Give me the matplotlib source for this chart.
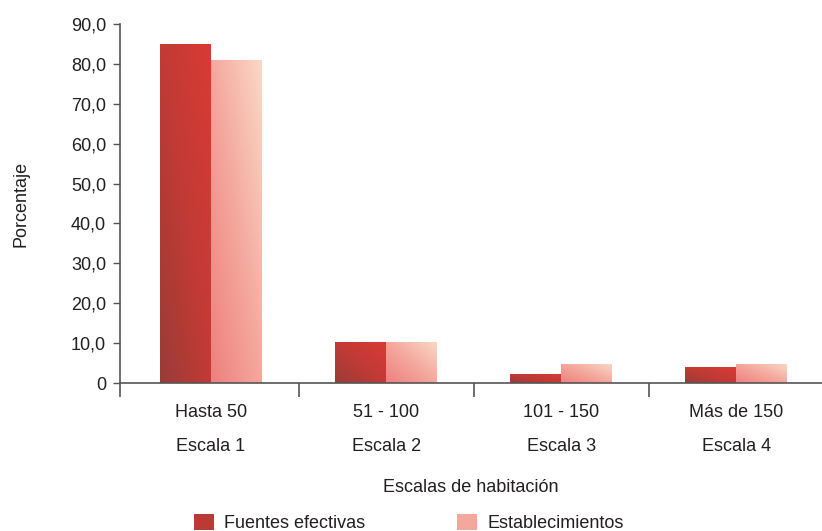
import matplotlib
matplotlib.use("Agg")
import matplotlib.pyplot as plt
from matplotlib.colors import LinearSegmentedColormap
from matplotlib.patches import Patch
import numpy as np

plt.rcParams['font.family'] = ['Liberation Sans', 'DejaVu Sans']

# Data
rangos = ["Hasta 50", "51 - 100", "101 - 150", "Más de 150"]
escalas = ["Escala 1", "Escala 2", "Escala 3", "Escala 4"]
fuentes = [85.0, 10.3, 2.3, 3.9]
establecimientos = [81.0, 10.3, 4.8, 4.8]
yticks = [0, 10, 20, 30, 40, 50, 60, 70, 80, 90]
ytick_labels = ["0", "10,0", "20,0", "30,0", "40,0", "50,0", "60,0", "70,0", "80,0", "90,0"]

txt = "#231f20"
axc = "#555555"
fs = 13
cmap_dark = LinearSegmentedColormap.from_list("dark", ["#9a3c37", "#c23a35", "#d93a34"])
cmap_light = LinearSegmentedColormap.from_list("light", ["#ee807e", "#f4a89c", "#fad8c8"])

fig = plt.figure(figsize=(8.22, 5.31), dpi=100)
ax = fig.add_axes([120/822, 148/531, 702/822, 359/531])

x = np.arange(len(rangos))
w = 0.29
b1 = ax.bar(x - w/2, fuentes, w, color="none")
b2 = ax.bar(x + w/2, establecimientos, w, color="none")

# diagonal gradient, bottom-left dark -> top-right light
u, v = np.meshgrid(np.linspace(0, 1, 60), np.linspace(0, 1, 60))
grad = (u + v) / 2
for bars, cm in ((b1, cmap_dark), (b2, cmap_light)):
    for p in bars:
        x0, y0 = p.get_x(), p.get_y()
        x1, y1 = x0 + p.get_width(), y0 + p.get_height()
        im = ax.imshow(grad, cmap=cm, extent=(x0, x1, y0, y1), origin="lower",
                       aspect="auto", interpolation="bilinear", zorder=2)
        im.set_clip_path(p)

ax.set_xlim(-0.52, 3.49)
ax.set_ylim(0, 90)

for s in ["top", "right"]:
    ax.spines[s].set_visible(False)
for s in ["left", "bottom"]:
    ax.spines[s].set_color(axc)
    ax.spines[s].set_linewidth(1.2)
    ax.spines[s].set_zorder(3)

ax.set_yticks(yticks)
ax.set_yticklabels(ytick_labels)
ax.tick_params(axis="y", length=5, width=1, color=axc, labelsize=fs,
               labelcolor=txt, pad=5)

ax.set_xticks(x)
ax.set_xticklabels([f"{r}\n{e}" for r, e in zip(rangos, escalas)],
                   linespacing=2.35)
ax.tick_params(axis="x", which="major", length=0, labelsize=fs,
               labelcolor=txt, pad=15)
ax.set_xticks([-0.52, 0.5, 1.5, 2.5], minor=True)
ax.tick_params(axis="x", which="minor", length=10, width=1.2, color=axc)

ax.set_ylabel("Porcentaje", fontsize=fs, color=txt, labelpad=30)
ax.set_xlabel("Escalas de habitación", fontsize=fs, color=txt, labelpad=17)

handles = [Patch(facecolor="#bb3a35"), Patch(facecolor="#f4a89c")]
fig.legend(handles, ["Fuentes efectivas", "Establecimientos"], loc="lower left",
           bbox_to_anchor=(178/822, -0.033), ncol=2, frameon=False,
           fontsize=fs, handlelength=1.1, handleheight=0.95,
           handletextpad=0.55, columnspacing=5.1, labelcolor=txt)

fig.savefig("out.png", dpi=100)
